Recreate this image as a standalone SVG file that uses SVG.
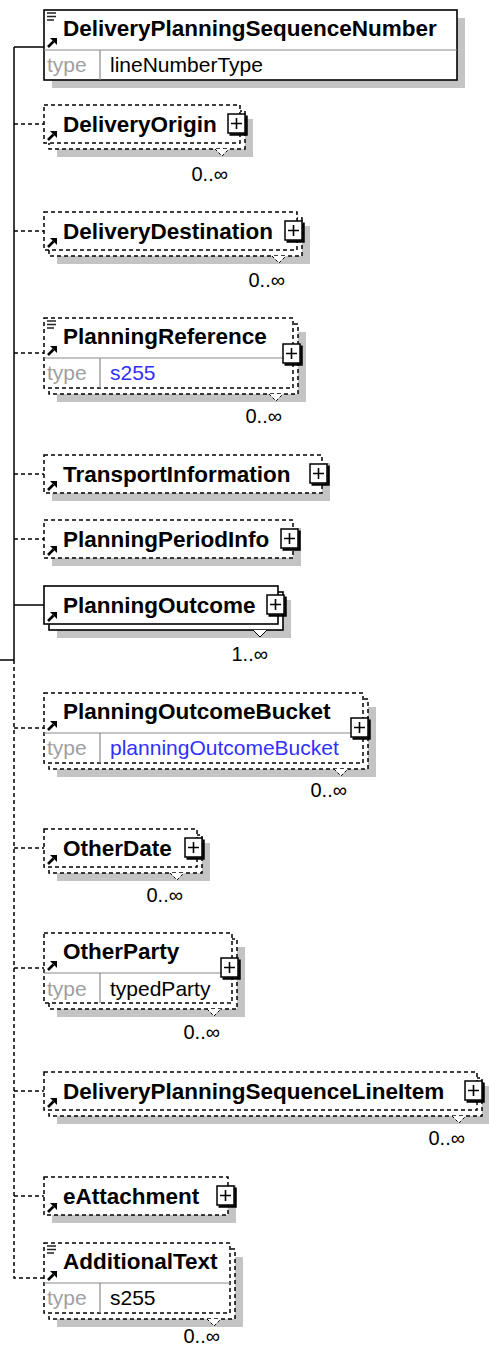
<svg xmlns="http://www.w3.org/2000/svg" xmlns:xlink="http://www.w3.org/1999/xlink" width="489" height="1345" viewBox="0 0 489 1345">
<style>
.sh{fill:#c4c4c4}
.bx{fill:#fff;stroke:#000;stroke-width:1.6}
.bxd{fill:#fff;stroke:#000;stroke-width:1.5;stroke-dasharray:4 3}
.hl{stroke:#8a8a8a;stroke-width:1.2}
.nm{font-family:"Liberation Sans",Arial,sans-serif;font-weight:bold;font-size:22.5px;fill:#000}
.ty{font-family:"Liberation Sans",Arial,sans-serif;font-size:21px;fill:#a0a0a0}
.tv{font-family:"Liberation Sans",Arial,sans-serif;font-size:21px;fill:#000}
.tb{font-family:"Liberation Sans",Arial,sans-serif;font-size:21px;fill:#3030ff}
.mu{font-family:"Liberation Sans",Arial,sans-serif;font-size:20px;fill:#000;text-anchor:end}
.cs{stroke:#000;stroke-width:1.5;fill:none}
.cd{stroke:#000;stroke-width:1.5;fill:none;stroke-dasharray:4 3}
.ns{fill:#fff;stroke:#000;stroke-width:1}
.nd{fill:#fff;stroke:#000;stroke-width:1;stroke-dasharray:3 2}
</style>
<defs>
<g id="plus">
<rect x="0" y="0" width="17" height="19" fill="#fff" stroke="#000" stroke-width="1.5"/>
<path d="M1.5,20.5 H18.5 V1.5" stroke="#000" stroke-width="2.5" fill="none"/>
<path d="M3,9.5 H14 M8.5,4 V15" stroke="#000" stroke-width="1.6" fill="none"/>
</g>
<g id="arr">
<path d="M1,-1 L6.5,-6.5" stroke="#000" stroke-width="2.6" fill="none"/>
<polygon points="10,-10 10,-3 3,-10" fill="#000"/>
</g>
<g id="doc">
<path d="M3,3 H12 M3,6.5 H12 M3,10 H10" stroke="#222" stroke-width="1.3" fill="none"/>
</g>
</defs>

<g id="connectors">
<path class="cs" d="M14,47 V660 M0,660 H14 M14,47 H44 M14,605 H44"/>
<path class="cd" d="M14,660 V1278 H44 M14,124 H44 M14,231 H44 M14,353 H44 M14,474 H44 M14,539 H44 M14,728 H44 M14,848 H44 M14,968 H44 M14,1091 H44 M14,1196 H44"/>
</g>

<g id="n1">
<rect class="sh" x="52" y="18" width="413" height="70"/>
<rect class="bx" x="44" y="10" width="413" height="70"/>
<line class="hl" x1="44" y1="50" x2="457" y2="50"/>
<line class="hl" x1="100" y1="50" x2="100" y2="80"/>
<use xlink:href="#doc" x="44" y="10"/>
<use xlink:href="#arr" x="47" y="48"/>
<text class="nm" x="63" y="36">DeliveryPlanningSequenceNumber</text>
<text class="ty" x="47" y="72">type</text>
<text class="tv" x="110" y="72">lineNumberType</text>
</g>

<g id="n2">
<rect class="sh" x="57" y="119" width="196" height="38"/>
<rect class="bxd" x="49" y="111" width="196" height="38"/>
<rect class="bxd" x="44" y="105" width="196" height="38"/>
<path class="nd" d="M215,149 L222,156 L229,149"/>
<use xlink:href="#plus" x="228" y="114"/>
<use xlink:href="#arr" x="47" y="141"/>
<text class="nm" x="63" y="132">DeliveryOrigin</text>
<text class="mu" x="228" y="181">0..∞</text>
</g>

<g id="n3">
<rect class="sh" x="57" y="226" width="253" height="38"/>
<rect class="bxd" x="49" y="218" width="253" height="38"/>
<rect class="bxd" x="44" y="212" width="253" height="38"/>
<path class="nd" d="M272,256 L279,263 L286,256"/>
<use xlink:href="#plus" x="285" y="221"/>
<use xlink:href="#arr" x="47" y="248"/>
<text class="nm" x="63" y="239">DeliveryDestination</text>
<text class="mu" x="285" y="287">0..∞</text>
</g>

<g id="n4">
<rect class="sh" x="57" y="332" width="249" height="70"/>
<rect class="bxd" x="49" y="324" width="249" height="70"/>
<rect class="bxd" x="44" y="318" width="249" height="70"/>
<line class="hl" x1="44" y1="358" x2="293" y2="358"/>
<line class="hl" x1="100" y1="358" x2="100" y2="388"/>
<path class="nd" d="M269,394 L276,401 L283,394"/>
<use xlink:href="#plus" x="283" y="344"/>
<use xlink:href="#doc" x="44" y="318"/>
<use xlink:href="#arr" x="47" y="356"/>
<text class="nm" x="63" y="344">PlanningReference</text>
<text class="ty" x="47" y="380">type</text>
<text class="tb" x="110" y="380">s255</text>
<text class="mu" x="282" y="423">0..∞</text>
</g>

<g id="n5">
<rect class="sh" x="52" y="463" width="278" height="38"/>
<rect class="bxd" x="44" y="455" width="278" height="38"/>
<use xlink:href="#plus" x="310" y="464"/>
<use xlink:href="#arr" x="47" y="491"/>
<text class="nm" x="63" y="482">TransportInformation</text>
</g>

<g id="n6">
<rect class="sh" x="52" y="528" width="249" height="38"/>
<rect class="bxd" x="44" y="520" width="249" height="38"/>
<use xlink:href="#plus" x="281" y="529"/>
<use xlink:href="#arr" x="47" y="556"/>
<text class="nm" x="63" y="547">PlanningPeriodInfo</text>
</g>

<g id="n7">
<rect class="sh" x="57" y="600" width="234" height="38"/>
<rect class="bx" x="49" y="592" width="234" height="38"/>
<rect class="bx" x="44" y="586" width="234" height="38"/>
<path class="ns" d="M253,630 L260,637 L267,630"/>
<use xlink:href="#plus" x="267" y="595"/>
<use xlink:href="#arr" x="47" y="622"/>
<text class="nm" x="63" y="613">PlanningOutcome</text>
<text class="mu" x="268" y="661">1..∞</text>
</g>

<g id="n8">
<rect class="sh" x="57" y="707" width="319" height="70"/>
<rect class="bxd" x="49" y="699" width="319" height="70"/>
<rect class="bxd" x="44" y="693" width="319" height="70"/>
<line class="hl" x1="44" y1="733" x2="363" y2="733"/>
<line class="hl" x1="100" y1="733" x2="100" y2="763"/>
<path class="nd" d="M334,769 L341,776 L348,769"/>
<use xlink:href="#plus" x="351" y="718"/>
<use xlink:href="#arr" x="47" y="731"/>
<text class="nm" x="63" y="719">PlanningOutcomeBucket</text>
<text class="ty" x="47" y="755">type</text>
<text class="tb" x="110" y="755">planningOutcomeBucket</text>
<text class="mu" x="347" y="797">0..∞</text>
</g>

<g id="n9">
<rect class="sh" x="57" y="843" width="153" height="38"/>
<rect class="bxd" x="49" y="835" width="153" height="38"/>
<rect class="bxd" x="44" y="829" width="153" height="38"/>
<path class="nd" d="M170,873 L177,880 L184,873"/>
<use xlink:href="#plus" x="185" y="838"/>
<use xlink:href="#arr" x="47" y="865"/>
<text class="nm" x="63" y="856">OtherDate</text>
<text class="mu" x="183" y="902">0..∞</text>
</g>

<g id="n10">
<rect class="sh" x="57" y="947" width="188" height="70"/>
<rect class="bxd" x="49" y="939" width="188" height="70"/>
<rect class="bxd" x="44" y="933" width="188" height="70"/>
<line class="hl" x1="44" y1="973" x2="232" y2="973"/>
<line class="hl" x1="100" y1="973" x2="100" y2="1003"/>
<path class="nd" d="M207,1009 L214,1016 L221,1009"/>
<use xlink:href="#plus" x="221" y="958"/>
<use xlink:href="#arr" x="47" y="971"/>
<text class="nm" x="63" y="959">OtherParty</text>
<text class="ty" x="47" y="996">type</text>
<text class="tv" x="110" y="996">typedParty</text>
<text class="mu" x="220" y="1039">0..∞</text>
</g>

<g id="n11">
<rect class="sh" x="57" y="1086" width="433" height="38"/>
<rect class="bxd" x="49" y="1078" width="433" height="38"/>
<rect class="bxd" x="44" y="1072" width="433" height="38"/>
<path class="nd" d="M452,1116 L459,1123 L466,1116"/>
<use xlink:href="#plus" x="465" y="1081"/>
<use xlink:href="#arr" x="47" y="1108"/>
<text class="nm" x="63" y="1099">DeliveryPlanningSequenceLineItem</text>
<text class="mu" x="465" y="1145">0..∞</text>
</g>

<g id="n12">
<rect class="sh" x="52" y="1185" width="184" height="38"/>
<rect class="bxd" x="44" y="1177" width="184" height="38"/>
<use xlink:href="#plus" x="217" y="1186"/>
<use xlink:href="#arr" x="47" y="1213"/>
<text class="nm" x="63" y="1204">eAttachment</text>
</g>

<g id="n13">
<rect class="sh" x="57" y="1257" width="186" height="70"/>
<rect class="bxd" x="49" y="1249" width="186" height="70"/>
<rect class="bxd" x="44" y="1243" width="186" height="70"/>
<line class="hl" x1="44" y1="1283" x2="230" y2="1283"/>
<line class="hl" x1="100" y1="1283" x2="100" y2="1313"/>
<path class="nd" d="M207,1319 L214,1326 L221,1319"/>
<use xlink:href="#doc" x="44" y="1243"/>
<use xlink:href="#arr" x="47" y="1281"/>
<text class="nm" x="63" y="1269">AdditionalText</text>
<text class="ty" x="47" y="1305">type</text>
<text class="tv" x="110" y="1305">s255</text>
<text class="mu" x="220" y="1343">0..∞</text>
</g>
</svg>
